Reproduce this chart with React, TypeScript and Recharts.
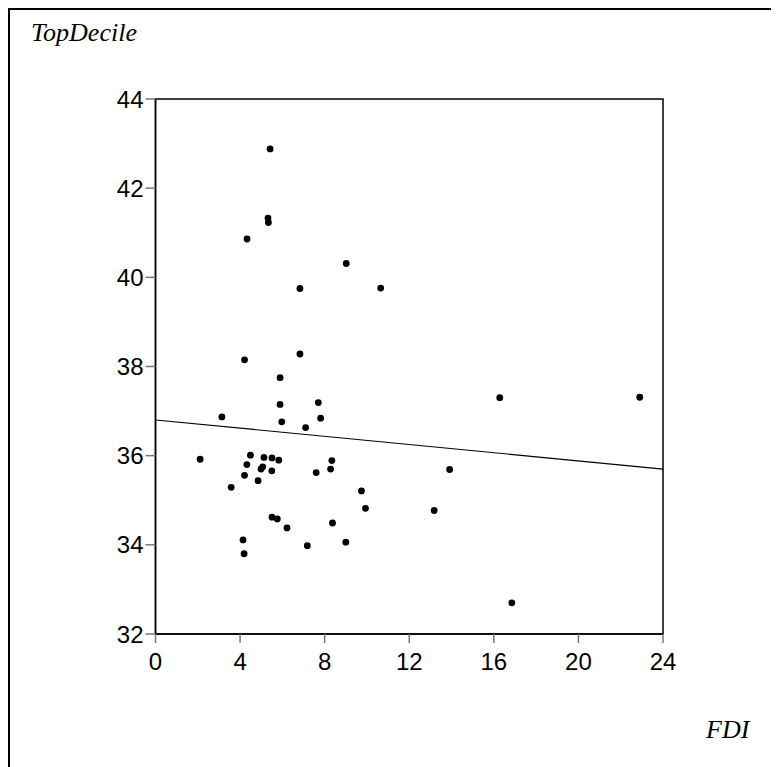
import React from "react";
import {
  ScatterChart,
  Scatter,
  XAxis,
  YAxis,
  ReferenceArea,
  ReferenceLine,
} from "recharts";

const fdi = [
  5.42, 5.32, 5.34, 4.33, 9.02, 6.83, 10.65, 4.21, 6.83, 5.89, 5.89, 7.7, 3.14,
  7.81, 5.97, 7.1, 2.11, 4.49, 5.13, 5.51, 5.83, 4.32, 5.07, 4.99, 5.5, 4.21,
  4.85, 3.58, 8.34, 8.28, 7.6, 9.74, 9.93, 5.51, 5.76, 6.22, 8.37, 4.14, 4.19,
  7.18, 9.0, 16.28, 22.9, 13.91, 13.18, 16.85,
];
const topDecile = [
  42.88, 41.33, 41.23, 40.86, 40.31, 39.75, 39.76, 38.15, 38.28, 37.75, 37.15,
  37.19, 36.87, 36.84, 36.76, 36.63, 35.92, 36.01, 35.96, 35.95, 35.9, 35.8,
  35.75, 35.7, 35.66, 35.56, 35.44, 35.29, 35.89, 35.7, 35.62, 35.21, 34.82,
  34.62, 34.58, 34.38, 34.49, 34.11, 33.8, 33.98, 34.06, 37.3, 37.31, 35.69,
  34.77, 32.7,
];
const fitX = [0, 24];
const fitY = [36.8, 35.7];
const xTicks = [0, 4, 8, 12, 16, 20, 24];
const yTicks = [32, 34, 36, 38, 40, 42, 44];

const points = fdi.map((x, i) => ({ x, y: topDecile[i] }));

const Dot = (props: any) => (
  <circle cx={props.cx} cy={props.cy} r={3.4} fill="#000" />
);

const tickStyle = {
  fill: "#000",
  fontSize: 24,
  fontFamily: "'Liberation Sans', Arial, sans-serif",
};

const labelStyle: React.CSSProperties = {
  position: "absolute",
  fontFamily: "'Liberation Serif', 'Times New Roman', serif",
  fontStyle: "italic",
  fontSize: 26,
  lineHeight: 1,
  color: "#000",
  whiteSpace: "nowrap",
};

export default function App() {
  return (
    <div
      style={{
        position: "relative",
        width: 771,
        height: 759,
        boxSizing: "border-box",
        borderTop: "2px solid #000",
        borderLeft: "2px solid #000",
      }}
    >
      <div style={{ position: "absolute", left: -2, top: -2 }}>
        <ScatterChart
          width={771}
          height={759}
          margin={{ top: 91, right: 116, bottom: 93, left: 87.5 }}
        >
          <XAxis
            type="number"
            dataKey="x"
            domain={[0, 24]}
            ticks={xTicks}
            interval={0}
            height={40}
            tickSize={9}
            tickMargin={10}
            tick={tickStyle}
            tickLine={{ stroke: "#777", strokeWidth: 1.5 }}
            axisLine={{ stroke: "#000", strokeWidth: 1.5 }}
            allowDataOverflow
          />
          <YAxis
            type="number"
            dataKey="y"
            domain={[32, 44]}
            ticks={yTicks}
            interval={0}
            width={60}
            tickSize={10}
            tickMargin={2}
            tick={tickStyle}
            tickLine={{ stroke: "#777", strokeWidth: 1.5 }}
            axisLine={{ stroke: "#000", strokeWidth: 1.5 }}
            allowDataOverflow
          />
          <ReferenceArea
            x1={0}
            x2={24}
            y1={32}
            y2={44}
            fill="none"
            stroke="#000"
            strokeWidth={1.5}
          />
          <ReferenceLine
            segment={[
              { x: fitX[0], y: fitY[0] },
              { x: fitX[1], y: fitY[1] },
            ]}
            stroke="#000"
            strokeWidth={1.2}
          />
          <Scatter data={points} shape={Dot} isAnimationActive={false} />
        </ScatterChart>
      </div>
      <div style={{ ...labelStyle, left: 21, top: 10 }}>TopDecile</div>
      <div style={{ ...labelStyle, left: 696, top: 707 }}>FDI</div>
    </div>
  );
}
